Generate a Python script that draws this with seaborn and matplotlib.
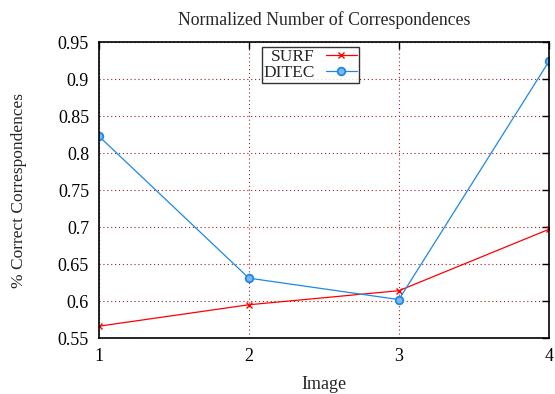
import matplotlib
matplotlib.use("Agg")
import matplotlib.pyplot as plt
import seaborn as sns
import pandas as pd

images = [1, 2, 3, 4]
surf = [0.566, 0.595, 0.614, 0.697]
ditec = [0.823, 0.631, 0.602, 0.924]
yticks = [0.55, 0.6, 0.65, 0.7, 0.75, 0.8, 0.85, 0.9, 0.95]
ytick_labels = ["0.55", "0.6", "0.65", "0.7", "0.75", "0.8", "0.85", "0.9", "0.95"]

sns.set_style("white")
plt.rcParams['font.family'] = ['Liberation Serif', 'DejaVu Serif']

df = pd.DataFrame({"Image": images * 2,
                   "val": surf + ditec,
                   "series": ["SURF"] * 4 + ["DITEC"] * 4})

fig = plt.figure(figsize=(5.55, 3.94), dpi=100)
ax = fig.add_axes([0.178, 0.142, 0.811, 0.751])

sns.lineplot(data=df[df.series == "SURF"], x="Image", y="val", ax=ax,
             color="#ff0000", marker="x", markersize=5, markeredgewidth=1.0,
             markeredgecolor="#ff0000",
             linewidth=0.9, label="SURF")
sns.lineplot(data=df[df.series == "DITEC"], x="Image", y="val", ax=ax,
             color="#1e88e5", marker="o", markersize=5.5, markerfacecolor="#7ab8ee",
             markeredgecolor="#1e88e5", markeredgewidth=1.3,
             linewidth=0.9, label="DITEC")

ax.set_xlim(1, 4)
ax.set_ylim(0.55, 0.95)
ax.set_xticks(images)
ax.set_xticklabels([str(i) for i in images])
ax.set_yticks(yticks)
ax.set_yticklabels(ytick_labels)
ax.tick_params(direction="in", length=5, width=1, labelsize=13, colors="black",
               top=True, right=True, labeltop=False, labelright=False, pad=7)
ax.grid(True, color="#a02020", linestyle=(0, (1, 2.5)), linewidth=0.8)
for s in ax.spines.values():
    s.set_color("black")
    s.set_linewidth(1.2)

ax.set_xlabel("Image", fontsize=13, labelpad=8)
ax.set_ylabel("% Correct Correspondences", fontsize=12.5, labelpad=22)
ax.set_title("Normalized Number of Correspondences", fontsize=12.8, pad=12)

leg = ax.legend(loc="upper left", bbox_to_anchor=(0.362, 0.983), markerfirst=False,
                frameon=True, fancybox=False, fontsize=12.5, handlelength=1.8,
                borderpad=0.1, labelspacing=0.0, handletextpad=0.63,
                borderaxespad=0)
leg.get_frame().set_edgecolor("black")
leg.get_frame().set_linewidth(1.0)
for t in leg.get_texts():
    t.set_ha("right")

fig.savefig("out.png", dpi=100)
